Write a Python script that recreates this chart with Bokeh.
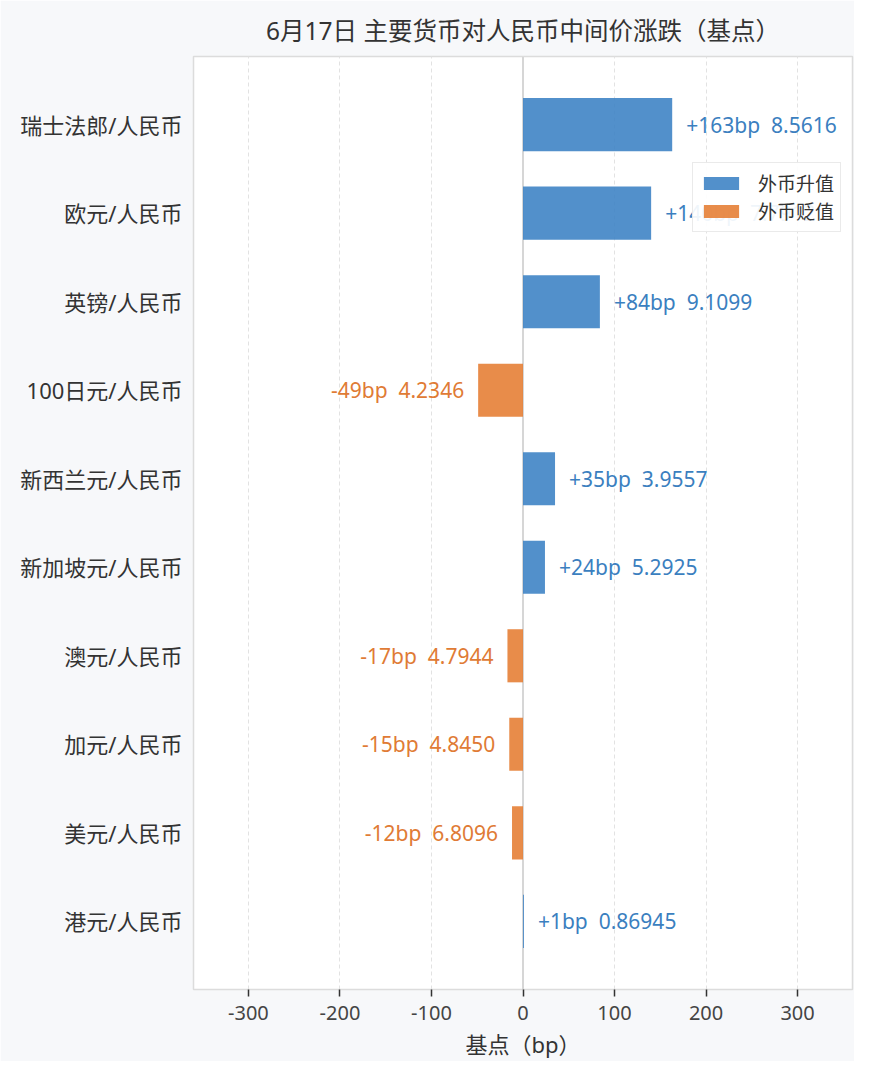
from bokeh.plotting import figure
from bokeh.models import ColumnDataSource, Range1d, FixedTicker, Span
from bokeh.embed import file_html
from bokeh.resources import INLINE
from bokeh.core.properties import value

# 6月17日 中间价, top -> bottom
pairs = ["瑞士法郎/人民币", "欧元/人民币", "英镑/人民币", "100日元/人民币", "新西兰元/人民币",
         "新加坡元/人民币", "澳元/人民币", "加元/人民币", "美元/人民币", "港元/人民币"]
change_bp = [163, 140, 84, -49, 35, 24, -17, -15, -12, 1]
mid_rate = ["8.5616", "7.7912", "9.1099", "4.2346", "3.9557",
            "5.2925", "4.7944", "4.8450", "6.8096", "0.86945"]
x_ticks = [-300, -200, -100, 0, 100, 200, 300]

FONT = "'Noto Sans', 'Noto Sans CJK SC', sans-serif"
BLUE = "#3f84c5"
ORANGE = "#e58036"
BLUE_TXT = "#3b7fbf"
ORANGE_TXT = "#e07b35"

n = len(pairs)
ypos = [n - 1 - i for i in range(n)]
gap = "\u00a0\u00a0"
labels = [("+%dbp%s%s" % (c, gap, r)) if c >= 0 else ("%dbp%s%s" % (c, gap, r))
          for c, r in zip(change_bp, mid_rate)]

def _src(sign):
    keep = [i for i, c in enumerate(change_bp) if (c >= 0) == sign]
    return ColumnDataSource(dict(
        y=[ypos[i] for i in keep],
        v=[change_bp[i] for i in keep],
        lab=[labels[i] for i in keep],
    ))

up = _src(True)
down = _src(False)

p = figure(width=854, height=1061,
           x_range=Range1d(-360, 360), y_range=Range1d(-0.77, n - 1 + 0.77),
           title="6月17日 主要货币对人民币中间价涨跌（基点）",
           output_backend="svg", toolbar_location=None, tools="",
           min_border_left=193, min_border_right=2, min_border_top=56, min_border_bottom=71)

p.background_fill_color = "white"
p.border_fill_color = "#f7f8fa"
p.outline_line_color = "#dcdcdc"
p.outline_line_width = 1.5

p.title.text_font = FONT
p.title.text_font_size = "24.5px"
p.title.text_font_style = "normal"
p.title.text_color = "#333333"
p.title.align = "center"
p.title.standoff = 20

# grid
p.ygrid.grid_line_color = None
p.xgrid.ticker = FixedTicker(ticks=x_ticks)
p.xgrid.grid_line_color = "#e2e2e2"
p.xgrid.grid_line_dash = "4 3"
p.xgrid.grid_line_width = 1
p.add_layout(Span(location=0, dimension="height", line_color="#d6d6d6", line_width=2, level="underlay"))

# bars
p.hbar(y="y", right="v", left=0, height=0.6, source=up, color=BLUE, fill_alpha=0.9, line_alpha=0,
       legend_label="外币升值")
p.hbar(y="y", right="v", left=0, height=0.6, source=down, color=ORANGE, fill_alpha=0.9, line_alpha=0,
       legend_label="外币贬值")

p.text(x="v", y="y", text="lab", source=up, x_offset=14, text_align="left", text_baseline="middle",
       text_font=value(FONT), text_font_size="21px", text_color=BLUE_TXT)
p.text(x="v", y="y", text="lab", source=down, x_offset=-14, text_align="right", text_baseline="middle",
       text_font=value(FONT), text_font_size="21px", text_color=ORANGE_TXT)

# axes
p.xaxis.ticker = FixedTicker(ticks=x_ticks)
p.xaxis.major_label_overrides = {t: str(t) for t in x_ticks}
p.xaxis.axis_line_color = None
p.xaxis.major_tick_line_color = "#333333"
p.xaxis.major_tick_line_width = 1.5
p.xaxis.major_tick_in = 0
p.xaxis.major_tick_out = 7
p.xaxis.minor_tick_line_color = None
p.xaxis.major_label_standoff = 9
p.xaxis.major_label_text_font = FONT
p.xaxis.major_label_text_font_size = "20px"
p.xaxis.major_label_text_color = "#444444"
p.xaxis.axis_label = "基点（bp）"
p.xaxis.axis_label_text_font = FONT
p.xaxis.axis_label_text_font_size = "22px"
p.xaxis.axis_label_text_font_style = "normal"
p.xaxis.axis_label_text_color = "#333333"
p.xaxis.axis_label_standoff = 6

p.yaxis.ticker = FixedTicker(ticks=ypos)
p.yaxis.major_label_overrides = {y: lab for y, lab in zip(ypos, pairs)}
p.yaxis.axis_line_color = None
p.yaxis.major_tick_line_color = None
p.yaxis.minor_tick_line_color = None
p.yaxis.major_label_standoff = 5
p.yaxis.major_label_text_font = FONT
p.yaxis.major_label_text_font_size = "22px"
p.yaxis.major_label_text_color = "#333333"

# legend
lg = p.legend[0]
lg.location = (499, 757)
lg.label_text_font = FONT
lg.label_text_font_size = "19px"
lg.label_text_color = "#333333"
lg.glyph_width = 44
lg.glyph_height = 16
lg.label_height = 20
lg.label_standoff = 15
lg.spacing = 0
lg.padding = 6
lg.border_line_color = "#d6d6d6"
lg.background_fill_alpha = 0.92

open("out.html", "w").write(file_html(p, INLINE))
